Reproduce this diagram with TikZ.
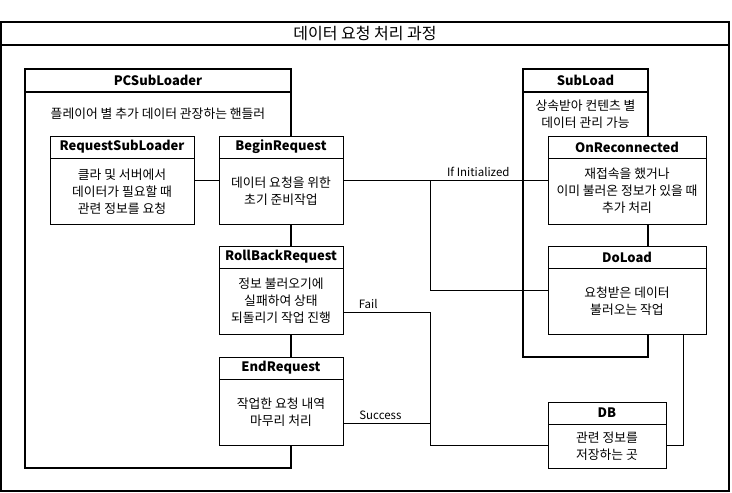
\documentclass[tikz,border=0pt]{standalone}
\usepackage{fontspec}
\setmainfont{Noto Sans CJK KR}
\usetikzlibrary{positioning}

\tikzset{
  frame/.style={draw, line width=2pt, fill=white, inner sep=0pt, outer sep=0pt},
  cls/.style={draw, line width=1pt, fill=white, anchor=north west, inner sep=0pt, outer sep=0pt},
  clshead/.style={draw, line width=1pt, anchor=north, minimum height=22pt, inner sep=0pt, outer sep=0pt, font=\fontsize{13}{15}\selectfont\bfseries},
  clsbody/.style={anchor=north, align=center, inner sep=0pt, font=\fontsize{12.8}{17}\selectfont},
  conn/.style={line width=1pt},
  lbl/.style={above, inner sep=3pt, font=\fontsize{11.5}{14}\selectfont},
}

\begin{document}
\begin{tikzpicture}[x=1pt, y=-1pt]
    \useasboundingbox (0,0) rectangle (732,493);

    % Draw outer frame and title
    \node[frame, minimum width=728pt, minimum height=469pt, anchor=north west] (frame) at (1,22) {};
    \node[frame, minimum width=728pt, minimum height=23pt, anchor=north, font=\fontsize{16}{18}\selectfont] (frame-t) at (frame.north) {데이터 요청 처리 과정};

    % Draw containers
    \node[frame, minimum width=266pt, minimum height=399pt, anchor=north west] (pcsl) at (25,69) {};
    \node[frame, minimum width=266pt, minimum height=23pt, anchor=north, font=\fontsize{13}{15}\selectfont\bfseries] (pcsl-t) at (pcsl.north) {PCSubLoader};
    \node[clsbody, below=16pt of pcsl-t] (pcsl-b) {플레이어 별 추가 데이터 관장하는 핸들러};

    \node[frame, minimum width=125pt, minimum height=288pt, anchor=north west] (sl) at (523,69) {};
    \node[frame, minimum width=125pt, minimum height=23pt, anchor=north, font=\fontsize{13}{15}\selectfont\bfseries] (sl-t) at (sl.north) {SubLoad};
    \node[clsbody, below=8pt of sl-t] (sl-b) {상속받아 컨텐츠 별\\데이터 관리 가능};

    % Draw class boxes
    \foreach \n/\x/\y/\w/\t/\b in {
      rsl/50/136/144/RequestSubLoader/{클라 및 서버에서\\데이터가 필요할 때\\관련 정보를 요청},
      br/219/136/124/BeginRequest/{데이터 요청을 위한\\초기 준비작업},
      rb/219/246/124/RollBackRequest/{정보 불러오기에\\실패하여 상태\\되돌리기 작업 진행},
      er/219/357/124/EndRequest/{작업한 요청 내역\\마무리 처리},
      orc/548/136/158/OnReconnected/{재접속을 했거나\\이미 불러온 정보가 있을 때\\추가 처리},
      dl/548/246/158/DoLoad/{요청받은 데이터\\불러오는 작업}} {
      \node[cls, minimum width=\w pt, minimum height=88pt] (\n) at (\x,\y) {};
      \node[clshead, minimum width=\w pt] (\n-t) at (\n.north) {\t};
      \node[clsbody, minimum height=66pt] (\n-b) at (\n-t.south) {\b};
    }
    \node[cls, minimum width=118pt, minimum height=66pt] (db) at (548,402) {};
    \node[clshead, minimum width=118pt] (db-t) at (db.north) {DB};
    \node[clsbody, minimum height=44pt] (db-b) at (db-t.south) {관련 정보를\\저장하는 곳};

    % Draw connectors
    \draw[conn] (rsl) -- (br);
    \draw[conn] (br) -- node[lbl, pos=.66] {If Initialized} (orc);
    \coordinate (split) at (430,180);
    \draw[conn] (split) |- (dl);
    \draw[conn] ([yshift=-22pt]rb.east) -- node[lbl, pos=.29] {Fail} ++(87pt,0) |- ([yshift=-10pt]db.west);
    \draw[conn] ([yshift=-22pt]er.east) -- node[lbl, pos=.43] {Success} ++(87pt,0);
    \draw[conn] ([xshift=56pt]dl.south) |- ([yshift=-10pt]db.east);

\end{tikzpicture}
\end{document}
